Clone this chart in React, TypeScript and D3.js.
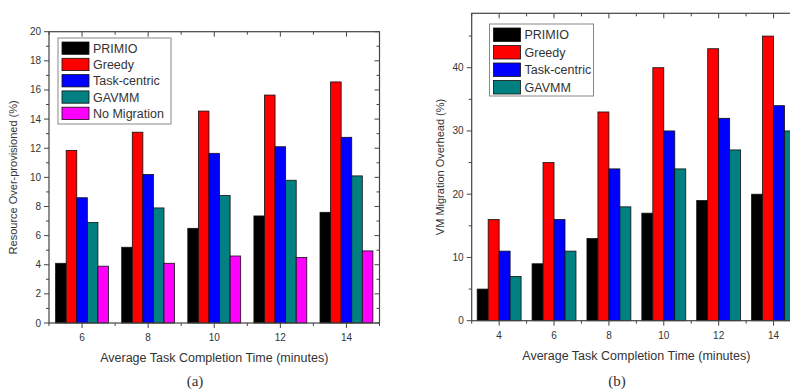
import React from "react";
import * as d3 from "d3";

const leftCategories = [6, 8, 10, 12, 14];
const leftSeries = ["PRIMIO", "Greedy", "Task-centric", "GAVMM", "No Migration"];
const leftPrimio = [4.1, 5.2, 6.5, 7.35, 7.6];
const leftGreedy = [11.85, 13.1, 14.55, 15.65, 16.55];
const leftTask = [8.6, 10.2, 11.65, 12.1, 12.75];
const leftGavmm = [6.9, 7.9, 8.75, 9.8, 10.1];
const leftNoMig = [3.9, 4.1, 4.6, 4.5, 4.95];
const leftYTicks = [0, 2, 4, 6, 8, 10, 12, 14, 16, 18, 20];

const rightCategories = [4, 6, 8, 10, 12, 14];
const rightSeries = ["PRIMIO", "Greedy", "Task-centric", "GAVMM"];
const rightPrimio = [5, 9, 13, 17, 19, 20];
const rightGreedy = [16, 25, 33, 40, 43, 45];
const rightTask = [11, 16, 24, 30, 32, 34];
const rightGavmm = [7, 11, 18, 24, 27, 30];
const rightYTicks = [0, 10, 20, 30, 40];

const colors = ["#000000", "#ff0000", "#0000ff", "#008080", "#ff00ff"];
const FONT = "Liberation Sans, Arial, sans-serif";
const AX = "#444";
const TXT = "#333";

type PanelProps = {
  cats: number[];
  series: string[];
  values: number[][];
  xDomain: [number, number];
  xRange: [number, number];
  yDomain: [number, number];
  yRange: [number, number];
  yTicks: number[];
  yMinorStep: number;
  yLabel: string;
  yLabelX: number;
  legend: { x: number; y: number; w: number; h: number; rowH: number };
  caption: string;
  captionX: number;
  captionY: number;
};

function Panel(p: PanelProps) {
  const x = d3.scaleLinear().domain(p.xDomain).range(p.xRange);
  const y = d3.scaleLinear().domain(p.yDomain).range(p.yRange);
  const n = p.series.length;
  const groupW = 1.6;
  const bw = groupW / n;
  const [x0, x1] = p.xRange;
  const [yb, yt] = p.yRange;
  const xMinor = d3.range(Math.ceil(p.xDomain[0]), Math.floor(p.xDomain[1]) + 1).filter((v) => !p.cats.includes(v));
  const yMinor = d3.range(p.yDomain[0] + p.yMinorStep, p.yDomain[1], p.yMinorStep * 2);
  const cx = (x0 + Math.min(x1, 801)) / 2;
  return (
    <g>
      {p.values.map((vals, si) =>
        vals.map((v, ci) => (
          <rect
            key={`${si}-${ci}`}
            x={x(p.cats[ci] - groupW / 2 + si * bw)}
            y={y(v)}
            width={x(p.xDomain[0] + bw) - x(p.xDomain[0])}
            height={y(0) - y(v)}
            fill={colors[si]}
            stroke="#111"
            strokeWidth={0.8}
          />
        ))
      )}
      <rect x={x0} y={yt} width={x1 - x0} height={yb - yt} fill="none" stroke={AX} strokeWidth={1.2} />
      {p.cats.map((c) => (
        <g key={`xt${c}`}>
          <line x1={x(c)} x2={x(c)} y1={yb} y2={yb + 5} stroke={AX} />
          <line x1={x(c)} x2={x(c)} y1={yt} y2={yt + 5} stroke={AX} />
          <text x={x(c)} y={yb + 18} textAnchor="middle" fontSize={10} fill={TXT} fontFamily={FONT}>
            {c}
          </text>
        </g>
      ))}
      {xMinor.map((c) => (
        <g key={`xm${c}`}>
          <line x1={x(c)} x2={x(c)} y1={yb} y2={yb + 3} stroke={AX} />
          <line x1={x(c)} x2={x(c)} y1={yt} y2={yt + 3} stroke={AX} />
        </g>
      ))}
      {p.yTicks.map((t) => (
        <g key={`yt${t}`}>
          <line x1={x0 - 5} x2={x0} y1={y(t)} y2={y(t)} stroke={AX} />
          <line x1={x1 - 5} x2={x1} y1={y(t)} y2={y(t)} stroke={AX} />
          <text x={x0 - 8} y={y(t)} dy="0.35em" textAnchor="end" fontSize={10} fill={TXT} fontFamily={FONT}>
            {t}
          </text>
        </g>
      ))}
      {yMinor.map((t) => (
        <g key={`ym${t}`}>
          <line x1={x0 - 3} x2={x0} y1={y(t)} y2={y(t)} stroke={AX} />
          <line x1={x1 - 3} x2={x1} y1={y(t)} y2={y(t)} stroke={AX} />
        </g>
      ))}
      <text
        transform={`translate(${p.yLabelX},${(yb + yt) / 2}) rotate(-90)`}
        textAnchor="middle"
        dy="0.35em"
        fontSize={11}
        fill={TXT}
        fontFamily={FONT}
      >
        {p.yLabel}
      </text>
      <text x={cx} y={yb + 39} textAnchor="middle" fontSize={12.5} fill={TXT} fontFamily={FONT}>
        Average Task Completion Time (minutes)
      </text>
      <text x={p.captionX} y={p.captionY} textAnchor="middle" fontSize={15} fill={TXT} fontFamily="Liberation Serif, Times New Roman, serif">
        {p.caption}
      </text>
      <rect x={p.legend.x} y={p.legend.y} width={p.legend.w} height={p.legend.h} fill="white" stroke="#888" strokeWidth={1} />
      {p.series.map((s, i) => {
        const ry = p.legend.y + 4 + i * p.legend.rowH;
        return (
          <g key={s}>
            <rect x={p.legend.x + 4} y={ry} width={27} height={p.legend.rowH - 4} fill={colors[i]} stroke="#111" strokeWidth={0.8} />
            <text x={p.legend.x + 35} y={ry + (p.legend.rowH - 4) / 2} dy="0.36em" fontSize={12.5} fill={TXT} fontFamily={FONT}>
              {s}
            </text>
          </g>
        );
      })}
    </g>
  );
}

export default function App() {
  return (
    <svg width={790} height={392} style={{ position: "absolute", left: 0, top: 0, background: "white" }}>
      <rect width={790} height={392} fill="white" />
      <Panel
        cats={leftCategories}
        series={leftSeries}
        values={[leftPrimio, leftGreedy, leftTask, leftGavmm, leftNoMig]}
        xDomain={[5, 15]}
        xRange={[49, 379.5]}
        yDomain={[0, 20]}
        yRange={[323, 31.7]}
        yTicks={leftYTicks}
        yMinorStep={1}
        yLabel="Resource Over-provisioned (%)"
        yLabelX={13}
        legend={{ x: 58, y: 38, w: 113, h: 86, rowH: 16.3 }}
        caption="(a)"
        captionX={195}
        captionY={386}
      />
      <Panel
        cats={rightCategories}
        series={rightSeries}
        values={[rightPrimio, rightGreedy, rightTask, rightGavmm]}
        xDomain={[3, 15]}
        xRange={[471.7, 801]}
        yDomain={[0, 48.6]}
        yRange={[320.7, 13.3]}
        yTicks={rightYTicks}
        yMinorStep={5}
        yLabel="VM Migration Overhead (%)"
        yLabelX={440}
        legend={{ x: 489.5, y: 24, w: 104, h: 72, rowH: 17.5 }}
        caption="(b)"
        captionX={617}
        captionY={386}
      />
    </svg>
  );
}
